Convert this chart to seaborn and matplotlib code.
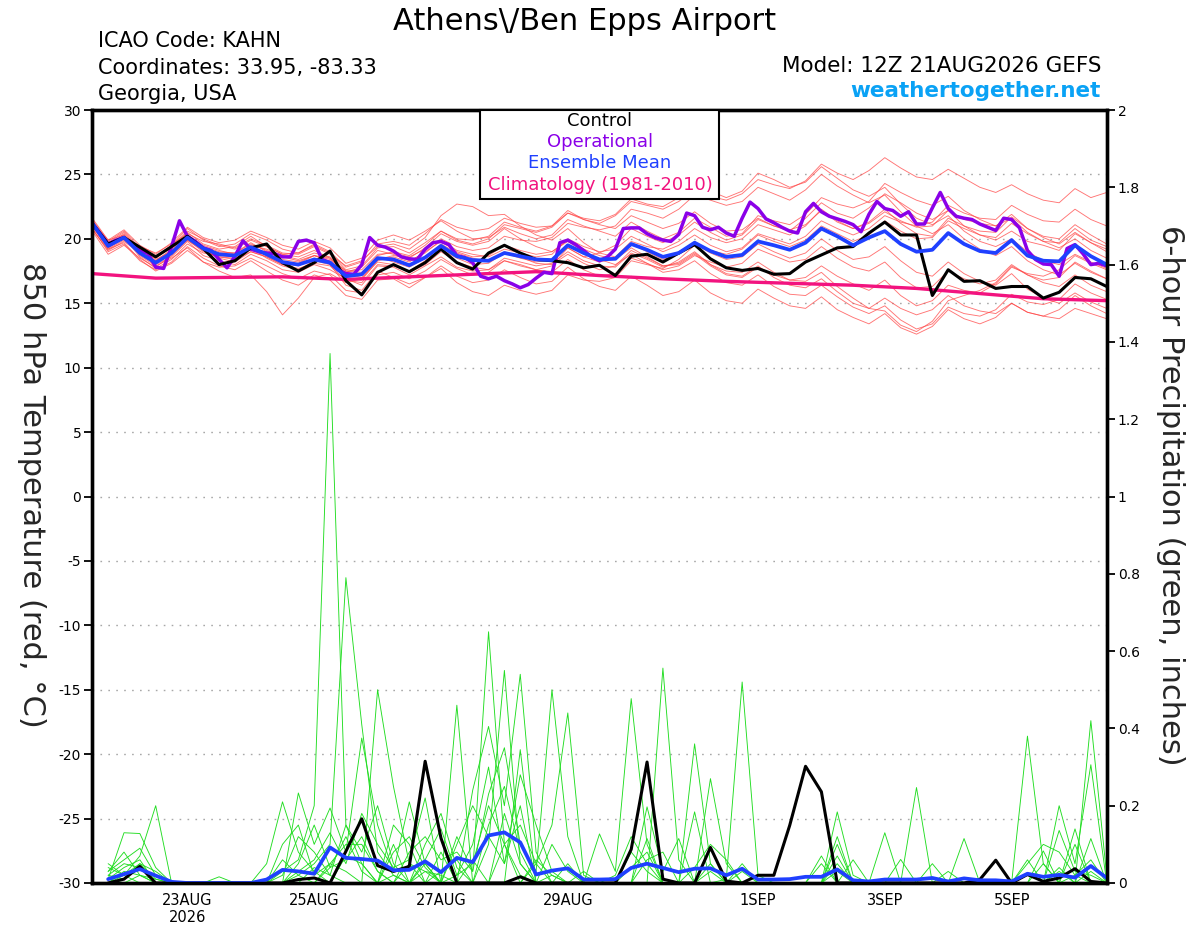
import numpy as np
import pandas as pd
import matplotlib
matplotlib.use("Agg")
import matplotlib.pyplot as plt
import seaborn as sns
from matplotlib.patches import Rectangle

# ---------------- text ----------------
title = "Athens\\/Ben Epps Airport"
info_left = ["ICAO Code: KAHN", "Coordinates: 33.95, -83.33", "Georgia, USA"]
model_text = "Model: 12Z 21AUG2026 GEFS"
site_text = "weathertogether.net"
legend_labels = ["Control", "Operational", "Ensemble Mean", "Climatology (1981-2010)"]
left_label = "850 hPa Temperature (red, \u00b0C)"
right_label = "6-hour Precipitation (green, inches)"

# ---------------- time axes (hours after 12Z 21AUG) ----------------
hours6 = np.arange(0, 385, 6)
hours3 = np.arange(0, 385, 3)
hours_daily = np.arange(0, 385, 24)
precip_hours = hours6[1:]
tick_hours = [36, 84, 132, 180, 252, 300, 348]
tick_labels = ["23AUG\n2026", "25AUG", "27AUG", "29AUG", "1SEP", "3SEP", "5SEP"]
temp_ticks = [-30, -25, -20, -15, -10, -5, 0, 5, 10, 15, 20, 25, 30]
precip_ticks = [0, 0.2, 0.4, 0.6, 0.8, 1.0, 1.2, 1.4, 1.6, 1.8, 2.0]
precip_tick_labels = ["0", "0.2", "0.4", "0.6", "0.8", "1", "1.2", "1.4", "1.6", "1.8", "2"]

# ---------------- 850 hPa temperature ----------------
temp_control = [21.2, 19.6, 20.1, 19.35, 18.6, 19.4, 20.2, 19.25, 18.0, 18.3, 19.3, 19.6, 18.15, 17.5, 18.15, 19.05, 16.75,
                15.65, 17.4, 18.0, 17.45, 18.15, 19.2, 18.15, 17.65, 18.9, 19.5, 18.9, 18.4, 18.3, 18.15, 17.75, 17.95,
                17.15, 18.65, 18.8, 18.2, 18.9, 19.55, 18.45, 17.75, 17.55, 17.7, 17.25, 17.3, 18.2, 18.75, 19.3, 19.4,
                20.45, 21.3, 20.3, 20.3, 15.6, 17.6, 16.7, 16.75, 16.15, 16.3, 16.3, 15.4, 15.85, 17.0, 16.9, 16.3]

temp_mean = [21.2, 19.45, 20.1, 18.9, 18.15, 18.9, 20.1, 19.25, 18.8, 18.7, 19.35, 18.8, 18.2, 18.0, 18.4, 18.15, 17.1,
             17.25, 18.5, 18.4, 17.95, 18.55, 19.45, 18.65, 18.35, 18.3, 18.9, 18.65, 18.4, 18.35, 19.5, 18.9, 18.4,
             18.45, 19.6, 19.15, 18.6, 18.9, 19.7, 19.05, 18.6, 18.75, 19.8, 19.5, 19.15, 19.7, 20.8, 20.2, 19.5,
             20.1, 20.6, 19.6, 19.0, 19.15, 20.45, 19.6, 19.05, 18.9, 19.9, 18.7, 18.3, 18.25, 19.5, 18.65, 18.0]

temp_oper = [21.2, 20.4, 19.6, 19.9, 20.1, 19.6, 19.05, 18.9, 17.8, 17.7, 19.4, 21.4, 20.2,
             19.8, 19.3, 19.1, 18.4, 17.75, 18.65, 19.85, 19.2, 19.0, 18.9, 18.85, 18.6, 18.6, 19.8, 19.9, 19.7,
             18.4, 18.15, 17.6, 17.3,
             17.25, 18.0, 20.1, 19.5, 19.35, 19.05, 18.6, 18.45, 18.4, 19.2, 19.7, 19.8, 19.55, 18.7, 18.55, 18.15,
             17.1, 16.9, 17.1, 16.75, 16.5, 16.2, 16.45, 16.95, 17.4, 17.3, 19.7, 19.9, 19.55, 19.1, 18.6,
             18.3, 18.6, 19.2, 20.8, 20.85, 20.85, 20.4, 20.1, 19.9, 19.8, 20.35, 22.0, 21.8, 20.9, 20.7, 20.9,
             20.45, 20.2, 21.6, 22.85, 22.35, 21.55, 21.25, 20.9, 20.6, 20.45, 22.1, 22.75, 22.1, 21.75, 21.55,
             21.35, 21.1,
             20.55, 21.9, 22.9, 22.35, 22.2, 21.75, 22.1, 21.15, 21.15, 22.4, 23.6, 22.35, 21.75, 21.6, 21.5,
             21.15, 20.9, 20.65, 21.6, 21.5, 20.85, 19.1, 18.4, 18.05, 18.0, 17.1, 19.25, 19.55, 18.85, 18.0,
             18.1, 17.9]

temp_clim = [17.3, 16.95, 17.0, 17.05, 16.85, 17.05, 17.25, 17.45, 17.15, 16.9, 16.7, 16.55, 16.4, 16.15,
             15.75, 15.35, 15.2]

mem_a = [21.5, 19.8, 20.6, 19.3, 18.6, 19.5, 20.8, 19.9, 19.4, 19.6, 20.4, 19.9, 19.2, 18.9, 19.6, 19.0, 17.8,
         18.2, 19.6, 19.8, 19.5, 20.4, 21.5, 20.9, 20.6, 20.8, 21.6, 21.2, 20.9, 21.0, 22.0, 21.5, 21.2,
         21.8, 22.9, 22.6, 22.3, 22.9, 23.8, 23.3, 23.0, 23.5, 24.6, 24.2, 23.9, 24.5, 25.8, 25.1, 24.6,
         25.3, 26.3, 25.5, 24.8, 24.6, 25.4, 24.7, 24.0, 23.6, 24.2, 23.5, 23.0, 22.8, 23.9, 23.2, 23.6]
mem_b = [20.8, 19.0, 19.6, 18.3, 17.6, 18.2, 19.4, 18.5, 17.9, 17.6, 18.3, 17.5, 16.8, 16.4, 17.2, 16.8, 15.6,
         15.3, 16.8, 16.9, 16.2, 17.0, 17.9, 17.1, 16.6, 16.8, 17.6, 17.0, 16.5, 16.7, 17.8, 16.9, 16.3,
         16.0, 17.1, 16.4, 15.6, 15.9, 16.8, 15.8, 15.2, 15.0, 16.1, 15.4, 14.8, 14.6, 15.5, 14.5, 13.9,
         13.4, 14.2, 13.1, 12.6, 13.2, 14.5, 13.8, 13.4, 13.9, 15.0, 14.3, 14.0, 14.5, 15.6, 14.8, 14.2]
mem_c = [21.0, 19.2, 19.9, 19.0, 18.3, 19.2, 20.5, 19.6, 19.2, 19.4, 20.2, 19.4, 18.8, 18.6, 19.1, 18.5, 17.3,
         17.0, 18.2, 18.0, 17.4, 18.0, 19.0, 18.2, 17.8, 17.6, 18.3, 18.0, 17.6, 17.9, 19.3, 18.6, 18.9,
         19.5, 20.8, 20.2, 19.7, 20.3, 21.3, 20.5, 19.9, 20.3, 21.5, 21.0, 20.6, 21.6, 22.8, 22.0, 21.6,
         22.4, 23.5, 22.8, 22.0, 21.5, 22.2, 21.0, 20.3, 19.9, 20.6, 19.8, 19.5, 19.1, 20.4, 19.7, 19.2]
mem_d = [21.6, 19.9, 20.3, 18.7, 17.9, 18.5, 19.3, 18.2, 17.5, 17.0, 17.2, 15.9, 14.1, 15.4, 17.0, 17.3, 16.6,
         16.9, 18.4, 18.7, 18.5, 19.3, 20.4, 19.8, 19.5, 19.8, 20.8, 20.0, 19.4, 19.0, 19.9, 19.2, 18.7,
         18.4, 19.3, 18.6, 17.9, 18.0, 18.8, 17.9, 17.2, 17.0, 17.8, 17.2, 16.8, 17.0, 17.9, 17.1, 16.5,
         16.0, 16.8, 15.6, 14.8, 15.2, 16.4, 16.0, 15.8, 16.5, 17.8, 17.3, 17.1, 17.6, 18.7, 18.1, 17.6]
mem_e = [20.9, 19.6, 20.2, 19.4, 18.9, 19.6, 20.4, 19.8, 19.6, 19.3, 20.0, 19.5, 18.9, 18.8, 19.4, 18.8, 17.9,
         18.3, 19.4, 19.6, 19.2, 20.1, 21.8, 22.7, 22.5, 21.8, 21.9, 21.0, 20.3, 19.9, 20.8, 19.7, 18.9,
         18.6, 19.8, 19.4, 19.2, 19.8, 20.8, 20.1, 19.7, 20.0, 21.1, 20.7, 20.3, 21.0, 22.3, 21.4, 20.8,
         21.3, 22.3, 21.2, 20.4, 20.2, 21.6, 21.0, 20.6, 20.5, 21.7, 20.8, 20.2, 20.0, 21.1, 20.3, 19.6]
mem_f = [21.3, 19.3, 20.0, 18.8, 18.0, 18.6, 19.8, 18.7, 18.3, 18.0, 18.8, 18.3, 17.6, 17.4, 18.0, 17.6, 16.9,
         16.4, 17.9, 17.8, 17.2, 17.9, 18.6, 17.8, 17.5, 17.6, 18.5, 18.2, 17.9, 18.1, 19.0, 18.3, 17.9,
         17.8, 18.9, 18.4, 17.8, 18.2, 19.0, 18.0, 17.3, 17.1, 17.9, 17.0, 16.4, 16.2, 16.9, 15.9, 15.0,
         14.6, 15.4, 14.6, 14.1, 14.5, 15.6, 14.8, 14.4, 14.2, 15.0, 14.3, 14.0, 13.8, 14.6, 14.2, 13.8]
mem_g = [21.1, 19.5, 20.4, 19.1, 18.4, 19.0, 20.0, 19.4, 19.0, 18.9, 19.6, 19.1, 18.6, 18.3, 18.7, 18.5, 17.5,
         17.6, 18.8, 18.9, 18.6, 19.2, 20.0, 19.4, 19.1, 19.3, 20.2, 19.9, 19.8, 20.1, 21.2, 20.9, 20.7,
         21.0, 22.3, 22.0, 21.6, 22.3, 23.4, 23.0, 22.6, 22.9, 24.0, 23.5, 23.0, 23.8, 25.0, 24.1, 23.4,
         22.8, 23.4, 22.1, 21.0, 20.4, 21.1, 20.0, 19.2, 18.7, 19.4, 18.3, 17.6, 17.2, 18.1, 17.4, 16.9]
mem_h = [20.6, 18.8, 19.5, 18.5, 17.8, 18.7, 19.9, 19.0, 18.6, 18.4, 19.0, 18.6, 18.0, 17.7, 18.1, 17.9, 16.8,
         16.6, 18.0, 17.9, 17.5, 18.3, 19.2, 18.5, 18.0, 18.1, 18.9, 18.5, 18.2, 18.4, 19.3, 18.6, 18.2,
         18.5, 19.6, 19.0, 18.4, 18.8, 19.6, 18.9, 18.4, 18.6, 19.6, 19.0, 18.5, 18.9, 20.0, 19.1, 18.4,
         18.6, 19.4, 18.3, 17.4, 17.1, 18.2, 17.3, 16.7, 16.4, 17.3, 16.1, 15.4, 15.0, 15.8, 15.1, 14.6]
mem_i = [21.4, 19.6, 20.1, 18.6, 17.7, 18.4, 19.6, 18.9, 18.7, 18.6, 19.3, 18.5, 17.9, 17.6, 18.3, 18.0, 16.4,
         16.0, 17.5, 17.0, 16.5, 17.0, 17.7, 16.6, 15.9, 15.6, 16.4, 16.0, 15.7, 16.0, 17.2, 16.8, 16.7,
         17.0, 18.3, 18.0, 17.7, 18.4, 19.5, 19.1, 18.8, 19.2, 20.3, 19.8, 19.4, 19.9, 21.0, 20.4, 19.8,
         20.3, 21.4, 20.6, 20.0, 20.1, 21.4, 20.8, 20.3, 20.1, 21.2, 20.4, 19.8, 19.7, 20.8, 19.9, 19.4]
mem_j = [21.0, 19.4, 20.0, 19.2, 18.6, 19.3, 20.3, 19.3, 18.9, 18.9, 19.7, 19.0, 18.4, 18.2, 18.7, 18.4, 17.4,
         17.8, 19.1, 18.8, 18.3, 18.9, 19.9, 19.1, 18.8, 18.6, 19.2, 18.9, 18.6, 18.8, 20.0, 19.4, 19.0,
         19.2, 20.2, 19.6, 19.0, 19.5, 20.3, 19.5, 19.0, 19.3, 20.4, 20.0, 19.6, 20.2, 21.4, 20.8, 20.3,
         20.8, 21.8, 21.3, 21.0, 21.3, 22.6, 22.0, 21.6, 21.5, 22.6, 21.9, 21.4, 21.3, 22.3, 21.5, 21.0]
mem_k = [21.2, 19.7, 20.5, 19.2, 18.2, 18.8, 20.0, 19.1, 18.5, 18.2, 19.0, 18.6, 18.0, 18.1, 18.7, 18.2, 17.0,
         17.2, 18.6, 18.2, 17.8, 18.5, 19.6, 18.9, 18.5, 18.2, 19.0, 18.6, 18.1, 18.0, 18.8, 18.1, 17.6,
         17.9, 19.1, 18.5, 17.9, 18.1, 18.9, 18.0, 17.5, 17.4, 18.2, 17.4, 16.8, 16.7, 17.4, 16.3, 15.4,
         14.6, 14.4, 13.3, 12.8, 13.6, 15.2, 15.6, 16.0, 16.6, 17.9, 17.2, 16.8, 17.0, 18.2, 17.5, 16.9]
mem_l = [20.8, 19.1, 19.8, 18.9, 18.5, 19.4, 20.6, 20.0, 19.5, 19.2, 19.9, 19.4, 18.8, 18.9, 19.5, 18.9, 17.6,
         17.9, 19.3, 19.4, 18.9, 19.7, 20.6, 20.0, 19.9, 20.2, 21.3, 20.9, 20.6, 21.0, 22.2, 21.5, 21.1,
         20.8, 21.8, 21.3, 20.8, 21.2, 22.1, 21.2, 20.6, 20.7, 21.6, 21.0, 20.7, 21.1, 22.2, 21.3, 20.8,
         21.2, 22.1, 21.4, 20.9, 21.0, 22.2, 21.5, 21.2, 21.0, 21.9, 20.8, 20.1, 19.6, 20.5, 19.7, 19.0]
mem_m = [21.3, 19.9, 20.7, 19.5, 18.8, 19.7, 20.9, 20.1, 19.7, 19.9, 20.6, 20.1, 19.5, 19.2, 19.8, 19.3, 18.1,
         18.5, 19.9, 20.3, 19.9, 20.6, 21.4, 20.6, 20.0, 20.1, 20.9, 20.4, 20.0, 20.3, 21.5, 21.0, 20.6,
         20.2, 21.3, 20.6, 20.0, 20.5, 21.6, 20.9, 20.2, 20.4, 21.8, 21.4, 21.1, 21.9, 23.2, 22.7, 22.4,
         22.9, 24.3, 23.6, 23.0, 22.6, 23.3, 22.2, 21.5, 21.0, 21.6, 20.5, 19.8, 19.3, 20.0, 19.1, 18.5]
mem_n = [20.7, 19.2, 19.7, 18.4, 17.5, 18.1, 19.1, 18.2, 17.8, 17.9, 18.5, 17.9, 17.3, 16.9, 17.5, 17.2, 16.0,
         15.8, 17.2, 17.4, 16.9, 17.5, 18.4, 17.7, 17.2, 17.4, 18.3, 17.9, 17.6, 17.4, 18.4, 17.6, 17.1,
         17.3, 18.5, 18.1, 17.6, 17.9, 18.7, 18.2, 17.8, 18.1, 19.2, 18.7, 18.2, 18.4, 19.4, 18.5, 17.8,
         17.5, 18.2, 17.0, 16.2, 16.3, 17.5, 16.9, 16.5, 16.8, 18.0, 17.2, 16.6, 16.3, 17.2, 16.4, 15.9]
mem_o = [21.0, 19.3, 20.1, 19.0, 18.3, 19.1, 20.3, 19.5, 19.1, 18.8, 19.5, 19.2, 18.7, 18.4, 18.9, 18.6, 17.5,
         17.4, 18.7, 19.0, 18.7, 19.5, 20.6, 19.9, 19.6, 20.0, 21.1, 20.8, 20.5, 20.9, 22.0, 21.6, 21.4,
         21.9, 23.1, 22.7, 22.5, 23.2, 24.4, 23.7, 23.2, 23.7, 25.1, 24.6, 24.0, 24.4, 25.6, 24.7, 23.8,
         23.3, 24.0, 22.7, 21.6, 21.1, 21.8, 20.6, 19.8, 19.4, 20.0, 19.0, 18.3, 18.0, 18.8, 18.2, 17.7]
mem_p = [21.3, 19.5, 20.3, 19.0, 18.1, 18.9, 19.9, 19.1, 18.6, 18.5, 19.2, 18.7, 18.1, 17.9, 18.5, 18.3, 16.9,
         16.8, 18.3, 18.6, 18.2, 19.0, 19.8, 19.0, 18.6, 18.7, 19.5, 19.1, 18.8, 19.0, 19.8, 19.0, 18.4,
         18.0, 18.8, 18.1, 17.4, 17.6, 18.3, 17.3, 16.6, 16.4, 17.2, 16.3, 15.7, 15.6, 16.4, 15.5, 14.7,
         14.2, 14.8, 13.7, 13.0, 13.4, 14.7, 14.2, 14.0, 14.5, 15.7, 15.1, 14.9, 15.3, 16.5, 15.8, 15.3]
temp_members = [mem_a, mem_b, mem_c, mem_d, mem_e, mem_f, mem_g, mem_h,
                mem_i, mem_j, mem_k, mem_l, mem_m, mem_n, mem_o, mem_p]

# ---------------- 6-hour precipitation (ending 18Z 21AUG onward) ----------------
precip_control = [0.0, 0.01, 0.043, 0.0, 0.0, 0.0, 0.0, 0.0,
                  0.0, 0.0, 0.0, 0.0, 0.009, 0.013, 0.0, 0.082,
                  0.166, 0.045, 0.03, 0.043, 0.315, 0.116, 0.0, 0.0,
                  0.0, 0.0, 0.016, 0.0, 0.0, 0.0, 0.0, 0.0,
                  0.0, 0.087, 0.313, 0.01, 0.0, 0.0, 0.092, 0.005,
                  0.0, 0.02, 0.02, 0.149, 0.302, 0.236, 0.0, 0.0,
                  0.0, 0.0, 0.0, 0.0, 0.0, 0.0, 0.0, 0.009,
                  0.059, 0.0, 0.022, 0.004, 0.013, 0.037, 0.004, 0.0]
precip_mean = [0.01, 0.023, 0.036, 0.019, 0.003, 0.0, 0.0, 0.0,
               0.0, 0.0, 0.009, 0.034, 0.03, 0.024, 0.092, 0.065,
               0.062, 0.058, 0.033, 0.034, 0.056, 0.028, 0.065, 0.054,
               0.123, 0.131, 0.105, 0.022, 0.032, 0.038, 0.009, 0.009,
               0.01, 0.039, 0.05, 0.039, 0.028, 0.037, 0.038, 0.02,
               0.037, 0.009, 0.009, 0.01, 0.016, 0.016, 0.035, 0.007,
               0.004, 0.009, 0.009, 0.009, 0.013, 0.004, 0.012, 0.007,
               0.007, 0.004, 0.024, 0.016, 0.021, 0.014, 0.044, 0.013]

pm_1 = [0.02, 0.05, 0.04, 0.0, 0.0, 0.0, 0.0, 0.0,
        0.0, 0.0, 0.0, 0.03, 0.06, 0.2, 1.37, 0.15,
        0.05, 0.0, 0.02, 0.0, 0.05, 0.0, 0.12, 0.03,
        0.65, 0.1, 0.02, 0.0, 0.0, 0.05, 0.0, 0.0,
        0.0, 0.08, 0.03, 0.0, 0.0, 0.0, 0.0, 0.01,
        0.52, 0.02, 0.0, 0.0, 0.0, 0.0, 0.0, 0.0,
        0.0, 0.0, 0.0, 0.0, 0.0, 0.0, 0.0, 0.0,
        0.0, 0.0, 0.38, 0.05, 0.0, 0.02, 0.06, 0.0]
pm_2 = [0.01, 0.13, 0.128, 0.04, 0.0, 0.0, 0.0, 0.0,
        0.0, 0.0, 0.0, 0.0, 0.02, 0.05, 0.1, 0.79,
        0.41, 0.08, 0.02, 0.0, 0.0, 0.03, 0.06, 0.0,
        0.1, 0.55, 0.05, 0.0, 0.02, 0.0, 0.0, 0.0,
        0.0, 0.0, 0.0, 0.556, 0.06, 0.0, 0.0, 0.0,
        0.03, 0.0, 0.0, 0.0, 0.0, 0.0, 0.184, 0.02,
        0.0, 0.0, 0.0, 0.0, 0.0, 0.0, 0.0, 0.0,
        0.0, 0.0, 0.0, 0.0, 0.0, 0.0, 0.42, 0.02]
pm_3 = [0.05, 0.02, 0.07, 0.2, 0.0, 0.0, 0.0, 0.0,
        0.0, 0.0, 0.05, 0.21, 0.08, 0.03, 0.0, 0.0,
        0.0, 0.5, 0.25, 0.05, 0.0, 0.0, 0.0, 0.0,
        0.0, 0.0, 0.0, 0.05, 0.15, 0.44, 0.02, 0.0,
        0.0, 0.0, 0.0, 0.0, 0.0, 0.36, 0.05, 0.0,
        0.0, 0.0, 0.0, 0.0, 0.0, 0.0, 0.0, 0.0,
        0.0, 0.13, 0.0, 0.0, 0.05, 0.0, 0.0, 0.0,
        0.0, 0.0, 0.0, 0.0, 0.2, 0.05, 0.306, 0.0]
pm_4 = [0.03, 0.06, 0.09, 0.02, 0.0, 0.0, 0.0, 0.0,
        0.0, 0.0, 0.0, 0.0, 0.233, 0.1, 0.194, 0.08,
        0.375, 0.15, 0.03, 0.21, 0.05, 0.0, 0.46, 0.0,
        0.0, 0.0, 0.345, 0.0, 0.0, 0.0, 0.0, 0.127,
        0.03, 0.477, 0.1, 0.0, 0.0, 0.0, 0.0, 0.0,
        0.0, 0.0, 0.0, 0.0, 0.0, 0.05, 0.0, 0.0,
        0.0, 0.0, 0.0, 0.247, 0.0, 0.0, 0.0, 0.0,
        0.0, 0.0, 0.0, 0.0, 0.0, 0.0, 0.115, 0.0]
pm_5 = [0.0, 0.03, 0.02, 0.01, 0.0, 0.0, 0.0, 0.016,
        0.0, 0.0, 0.0, 0.06, 0.02, 0.0, 0.04, 0.12,
        0.03, 0.0, 0.1, 0.0, 0.03, 0.02, 0.0, 0.24,
        0.405, 0.2, 0.54, 0.08, 0.0, 0.0, 0.03, 0.0,
        0.0, 0.0, 0.197, 0.03, 0.115, 0.0, 0.27, 0.05,
        0.0, 0.0, 0.0, 0.0, 0.0, 0.07, 0.0, 0.06,
        0.0, 0.0, 0.0, 0.0, 0.0, 0.0, 0.115, 0.0,
        0.0, 0.0, 0.06, 0.0, 0.136, 0.03, 0.02, 0.0]
pm_6 = [0.02, 0.01, 0.05, 0.03, 0.0, 0.0, 0.0, 0.0,
        0.0, 0.0, 0.0, 0.1, 0.15, 0.02, 0.05, 0.1,
        0.1, 0.03, 0.0, 0.08, 0.12, 0.06, 0.08, 0.03,
        0.23, 0.35, 0.1, 0.03, 0.5, 0.12, 0.0, 0.0,
        0.0, 0.0, 0.0, 0.0, 0.0, 0.184, 0.0, 0.0,
        0.0, 0.0, 0.0, 0.0, 0.0, 0.0, 0.12, 0.0,
        0.0, 0.0, 0.061, 0.0, 0.0, 0.0, 0.0, 0.0,
        0.0, 0.0, 0.0, 0.083, 0.0, 0.0, 0.03, 0.0]
pm_7 = [0.01, 0.04, 0.06, 0.0, 0.0, 0.0, 0.0, 0.0,
        0.0, 0.0, 0.0, 0.0, 0.03, 0.06, 0.13, 0.05,
        0.18, 0.1, 0.04, 0.06, 0.22, 0.0, 0.02, 0.1,
        0.3, 0.05, 0.2, 0.0, 0.0, 0.0, 0.0, 0.0,
        0.0, 0.0, 0.115, 0.0, 0.0, 0.0, 0.03, 0.0,
        0.0, 0.0, 0.0, 0.0, 0.0, 0.0, 0.07, 0.0,
        0.0, 0.0, 0.0, 0.0, 0.0, 0.03, 0.0, 0.0,
        0.0, 0.0, 0.0, 0.0, 0.03, 0.0, 0.0, 0.0]
pm_8 = [0.0, 0.0, 0.02, 0.0, 0.0, 0.0, 0.0, 0.0,
        0.0, 0.0, 0.0, 0.0, 0.0, 0.0, 0.0, 0.07,
        0.05, 0.0, 0.15, 0.1, 0.0, 0.08, 0.0, 0.0,
        0.0, 0.1, 0.0, 0.06, 0.02, 0.0, 0.0, 0.0,
        0.0, 0.0, 0.0, 0.0, 0.0, 0.0, 0.0, 0.0,
        0.0, 0.0, 0.0, 0.0, 0.0, 0.0, 0.0, 0.0,
        0.0, 0.0, 0.0, 0.0, 0.0, 0.0, 0.0, 0.0,
        0.0, 0.0, 0.0, 0.05, 0.0, 0.0, 0.0, 0.0]
pm_9 = [0.04, 0.02, 0.0, 0.0, 0.0, 0.0, 0.0, 0.0,
        0.0, 0.0, 0.0, 0.0, 0.0, 0.04, 0.02, 0.0,
        0.0, 0.0, 0.0, 0.05, 0.03, 0.0, 0.1, 0.2,
        0.12, 0.05, 0.28, 0.15, 0.03, 0.0, 0.0, 0.0,
        0.0, 0.04, 0.08, 0.0, 0.0, 0.0, 0.0, 0.0,
        0.05, 0.0, 0.0, 0.0, 0.0, 0.0, 0.03, 0.0,
        0.0, 0.0, 0.0, 0.0, 0.0, 0.0, 0.0, 0.0,
        0.0, 0.0, 0.0, 0.0, 0.0, 0.1, 0.0, 0.0]
pm_10 = [0.03, 0.08, 0.02, 0.0, 0.0, 0.0, 0.0, 0.0,
         0.0, 0.0, 0.0, 0.02, 0.12, 0.08, 0.02, 0.15,
         0.08, 0.2, 0.05, 0.0, 0.1, 0.18, 0.04, 0.0,
         0.15, 0.25, 0.08, 0.0, 0.0, 0.0, 0.0, 0.0,
         0.02, 0.12, 0.05, 0.0, 0.0, 0.04, 0.1, 0.06,
         0.0, 0.0, 0.0, 0.0, 0.0, 0.0, 0.0, 0.0,
         0.0, 0.0, 0.0, 0.0, 0.0, 0.0, 0.0, 0.0,
         0.0, 0.0, 0.05, 0.1, 0.08, 0.02, 0.0, 0.0]
pm_11 = [0.0, 0.02, 0.05, 0.01, 0.0, 0.0, 0.0, 0.0,
         0.0, 0.0, 0.0, 0.0, 0.05, 0.15, 0.04, 0.06,
         0.12, 0.03, 0.0, 0.0, 0.06, 0.14, 0.02, 0.05,
         0.2, 0.1, 0.15, 0.05, 0.0, 0.0, 0.0, 0.0,
         0.0, 0.0, 0.06, 0.08, 0.0, 0.0, 0.0, 0.0,
         0.0, 0.0, 0.0, 0.0, 0.0, 0.0, 0.05, 0.0,
         0.0, 0.0, 0.0, 0.0, 0.0, 0.0, 0.0, 0.0,
         0.0, 0.0, 0.0, 0.0, 0.0, 0.14, 0.0, 0.0]
pm_12 = [0.01, 0.0, 0.0, 0.0, 0.0, 0.0, 0.0, 0.0,
         0.0, 0.0, 0.0, 0.0, 0.0, 0.0, 0.05, 0.03,
         0.0, 0.0, 0.08, 0.12, 0.04, 0.0, 0.0, 0.06,
         0.0, 0.18, 0.05, 0.0, 0.1, 0.03, 0.0, 0.0,
         0.0, 0.0, 0.0, 0.0, 0.0, 0.0, 0.05, 0.0,
         0.0, 0.0, 0.0, 0.0, 0.0, 0.0, 0.1, 0.0,
         0.0, 0.0, 0.0, 0.0, 0.0, 0.0, 0.0, 0.0,
         0.0, 0.0, 0.0, 0.0, 0.04, 0.0, 0.0, 0.0]
precip_members = [pm_1, pm_2, pm_3, pm_4, pm_5, pm_6, pm_7, pm_8, pm_9, pm_10, pm_11, pm_12]

# ---------------- styling ----------------
c_control = "#000000"
c_oper = "#8a00e8"
c_mean = "#1f40ff"
c_clim = "#f2137f"
c_member_t = "#ff4646"
c_member_p = "#22dd22"
c_site = "#0aa2f5"

sns.set_theme(style="white")
plt.rcParams["font.family"] = ["DejaVu Sans"]
plt.rcParams["axes.unicode_minus"] = False

W, H = 1200, 927
fig = plt.figure(figsize=(W / 100, H / 100), dpi=100)
x0, x1, ytop, ybot = 92.3, 1106.7, 110, 883
ax = fig.add_axes([x0 / W, 1 - ybot / H, (x1 - x0) / W, (ybot - ytop) / H])
ax2 = ax.twinx()

def fx(px):
    return px / W

def fy(py):
    return 1 - py / H

# temperature members
for m in temp_members:
    sns.lineplot(x=hours6, y=m, ax=ax, color=c_member_t, linewidth=0.65, alpha=0.75,
                 estimator=None, legend=False)
sns.lineplot(x=hours_daily, y=temp_clim, ax=ax, color=c_clim, linewidth=2.4, estimator=None, legend=False)
sns.lineplot(x=hours3, y=temp_oper, ax=ax, color=c_oper, linewidth=2.5, estimator=None, legend=False)
sns.lineplot(x=hours6, y=temp_control, ax=ax, color=c_control, linewidth=2.2, estimator=None, legend=False)
sns.lineplot(x=hours6, y=temp_mean, ax=ax, color=c_mean, linewidth=2.7, estimator=None, legend=False)

# precipitation members
for m in precip_members:
    sns.lineplot(x=precip_hours, y=m, ax=ax2, color=c_member_p, linewidth=0.65,
                 estimator=None, legend=False)
sns.lineplot(x=precip_hours, y=precip_control, ax=ax2, color=c_control, linewidth=2.2,
             estimator=None, legend=False)
sns.lineplot(x=precip_hours, y=precip_mean, ax=ax2, color=c_mean, linewidth=2.7,
             estimator=None, legend=False)

ax.set_xlim(0, 384)
ax.set_ylim(-30, 30)
ax2.set_ylim(0, 2)
ax.set_xlabel("")
ax.set_ylabel("")
ax2.set_ylabel("")

ax.set_yticks(temp_ticks)
ax.set_yticklabels([str(t) for t in temp_ticks])
ax2.set_yticks(precip_ticks)
ax2.set_yticklabels(precip_tick_labels)
ax.set_xticks(tick_hours)
ax.set_xticklabels(tick_labels)

ax.grid(axis="y", color="#a8a8a8", linestyle=(0, (1.2, 4.5)), linewidth=1.0)
ax.grid(axis="x", visible=False)
ax2.grid(False)
ax.set_axisbelow(True)

ax.tick_params(axis="y", direction="out", length=6, width=1.3, labelsize=10, pad=2, colors="black", left=True)
ax.tick_params(axis="x", length=0, labelsize=10.5, pad=7, colors="black")
ax2.tick_params(axis="y", direction="out", length=6, width=1.3, labelsize=10, pad=2, colors="black", right=True)

for a in (ax, ax2):
    for s in a.spines.values():
        s.set_visible(True)
        s.set_color("black")
        s.set_linewidth(2.4)

# titles / info
fig.text(fx(585), fy(29.5), title, ha="center", va="baseline", fontsize=22, color="black")
for txt, yb in zip(info_left, [47, 74, 100]):
    fig.text(fx(98), fy(yb), txt, ha="left", va="baseline", fontsize=15, color="black")
fig.text(fx(1101), fy(72), model_text, ha="right", va="baseline", fontsize=15.5, color="black")
fig.text(fx(1101), fy(97), site_text, ha="right", va="baseline", fontsize=15.5,
         fontweight="bold", color=c_site)

# axis labels
fig.text(fx(31), fy(495), left_label, rotation=270, ha="center", va="center", fontsize=22)
fig.text(fx(1171), fy(495), right_label, rotation=270, ha="center", va="center", fontsize=22)

# legend box
box = Rectangle((fx(480), fy(199)), fx(719) - fx(480), fy(110) - fy(199), transform=fig.transFigure,
                facecolor="white", edgecolor="black", linewidth=1.5, zorder=10)
fig.add_artist(box)
for lab, col, yc in zip(legend_labels, [c_control, c_oper, c_mean, c_clim], [121, 142, 163.5, 185]):
    fig.text(fx(600), fy(yc), lab, ha="center", va="center", fontsize=13, color=col, zorder=11)

fig.savefig("out.png", dpi=100)
